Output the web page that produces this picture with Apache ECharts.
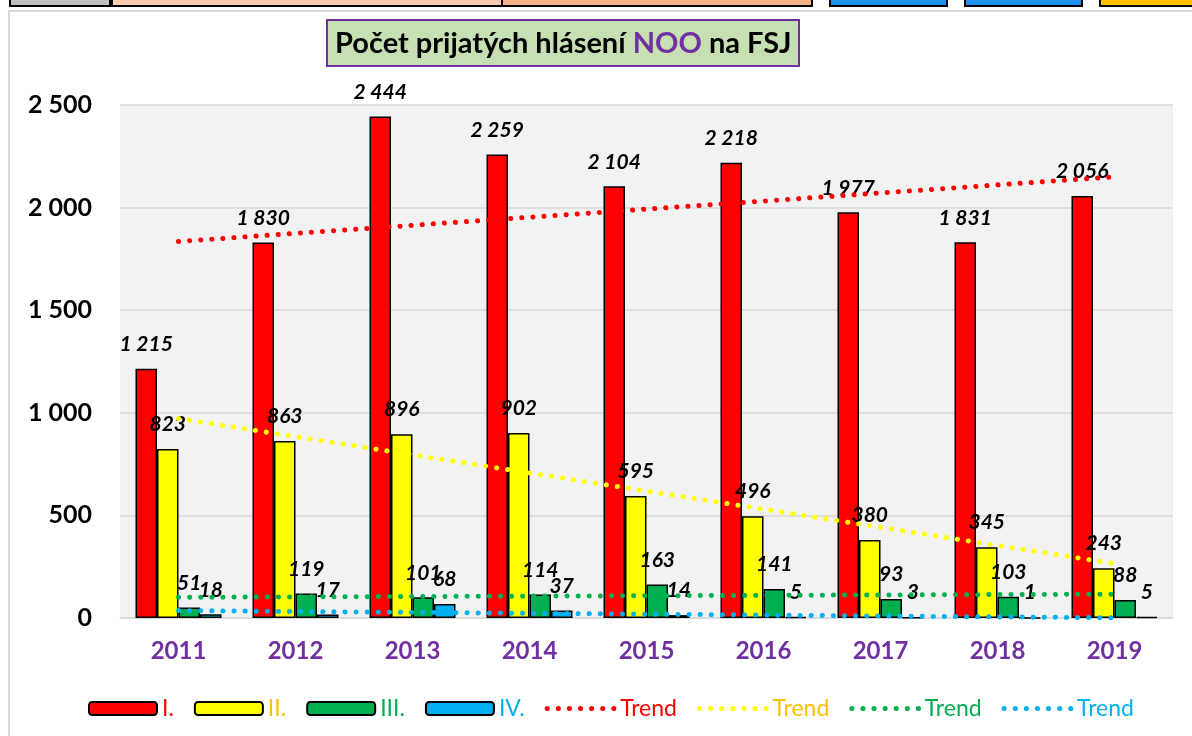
<!DOCTYPE html>
<html>
<head>
<meta charset="utf-8">
<style>
	html, body{
		margin: 0;
		padding: 0;
		background: #fff;
	}
	#noo{
		width: 1192px;
		height: 736px;
	}
</style>
<script src="https://cdn.jsdelivr.net/npm/echarts@6/dist/echarts.min.js"></script>
</head>
<body>
<div id="noo"></div>
<script>
// roky
var years = ['2011', '2012', '2013', '2014', '2015', '2016', '2017', '2018', '2019'];
// pocty hlaseni podla stupna
var stupenI = [1215, 1830, 2444, 2259, 2104, 2218, 1977, 1831, 2056];
var stupenII = [823, 863, 896, 902, 595, 496, 380, 345, 243];
var stupenIII = [51, 119, 101, 114, 163, 141, 93, 103, 88];
var stupenIV = [18, 17, 68, 37, 14, 5, 3, 1, 5];
// trendy - odcitane konce priamok z grafu
var trendI = [1835, null, null, null, null, null, null, null, 2150];
var trendII = [972, null, null, null, null, null, null, null, 265];
var trendIII = [101, null, null, null, null, null, null, null, 116];
var trendIV = [36, null, null, null, null, null, null, null, 1];
var yTicks = [0, 500, 1000, 1500, 2000, 2500];

var FONT = 'Lato';

function fmt(v) {
	return String(v).replace(/\B(?=(\d{3})+(?!\d))/g, ' ');
}

function barSerie(name, color, data) {
	return {
		name: name,
		type: 'bar',
		barWidth: 21.5,
		barGap: '0%',
		itemStyle: {
			color: color,
			borderColor: '#000',
			borderWidth: 1.5
		},
		label: {
			show: true,
			position: 'top',
			distance: 14,
			fontFamily: FONT,
			fontSize: 21,
			fontWeight: 'bold',
			fontStyle: 'italic',
			color: '#000',
			formatter: function (p) { return fmt(p.value); }
		},
		z: 2,
		data: data
	};
}

function trendSerie(name, color, data) {
	return {
		name: name,
		type: 'line',
		symbol: 'none',
		connectNulls: true,
		lineStyle: {
			color: color,
			width: 5,
			type: [0.1, 11],
			cap: 'round'
		},
		itemStyle: { color: color },
		z: 3,
		data: data
	};
}

function legendItem(name, color, isTrend) {
	var it = { name: name, textStyle: { color: color } };
	if (isTrend) {
		it.itemStyle = { opacity: 0 };
	}
	return it;
}

var chart = echarts.init(document.getElementById('noo'));

var option = {
	animation: false,
	backgroundColor: '#fff',
	title: {
		text: 'Počet prijatých hlásení {n|NOO} na FSJ',
		left: 327,
		top: 20,
		padding: [9, 8, 8, 8],
		backgroundColor: '#c6e0b4',
		borderColor: '#7030a0',
		borderWidth: 2,
		textStyle: {
			fontFamily: FONT,
			fontSize: 29,
			fontWeight: 'bold',
			color: '#000',
			rich: {
				n: {
					fontFamily: FONT,
					fontSize: 29,
					fontWeight: 'bold',
					color: '#7030a0'
				}
			}
		}
	},
	grid: {
		left: 120,
		right: 19,
		top: 105,
		bottom: 118,
		show: true,
		backgroundColor: '#f2f2f2',
		borderWidth: 0
	},
	legend: {
		left: 83,
		top: 692,
		itemWidth: 68,
		itemHeight: 13,
		itemGap: 20,
		lineStyle: {
			width: 5
		},
		textStyle: {
			fontFamily: FONT,
			fontSize: 23
		},
		formatter: function (n) {
			return n.indexOf('Trend') === 0 ? 'Trend' : n;
		},
		data: [
			legendItem('I.', '#ff0000'),
			legendItem('II.', '#ffc000'),
			legendItem('III.', '#00b050'),
			legendItem('IV.', '#00b0f0'),
			legendItem('Trend I.', '#ff0000', true),
			legendItem('Trend II.', '#ffc000', true),
			legendItem('Trend III.', '#00b050', true),
			legendItem('Trend IV.', '#00b0f0', true)
		]
	},
	xAxis: {
		type: 'category',
		data: years,
		axisTick: { show: false },
		axisLine: {
			lineStyle: { color: '#d9d9d9', width: 1.5 }
		},
		axisLabel: {
			margin: 21,
			fontFamily: FONT,
			fontSize: 24,
			fontWeight: 'bold',
			color: '#7030a0'
		}
	},
	yAxis: {
		type: 'value',
		min: yTicks[0],
		max: yTicks[yTicks.length - 1],
		interval: 500,
		axisLine: { show: false },
		axisTick: { show: false },
		splitLine: {
			lineStyle: { color: '#d9d9d9', width: 1.5 }
		},
		axisLabel: {
			margin: 28,
			fontFamily: FONT,
			fontSize: 25,
			fontWeight: 'bold',
			color: '#000',
			formatter: function (v) { return fmt(v); }
		}
	},
	series: [
		barSerie('I.', '#ff0000', stupenI),
		barSerie('II.', '#ffff00', stupenII),
		barSerie('III.', '#00b050', stupenIII),
		barSerie('IV.', '#00b0f0', stupenIV),
		trendSerie('Trend I.', '#ff0000', trendI),
		trendSerie('Trend II.', '#ffff00', trendII),
		trendSerie('Trend III.', '#00b050', trendIII),
		trendSerie('Trend IV.', '#00b0f0', trendIV)
	],
	// okraj grafu a kusok tabulky nad nim
	graphic: [
		{ type: 'rect', shape: { x: 9, y: 11, width: 1200, height: 800 }, style: { fill: 'none', stroke: '#d9d9d9', lineWidth: 2 }, silent: true },
		{ type: 'rect', shape: { x: 10, y: -2, width: 100, height: 8 }, style: { fill: '#c0c0c0', stroke: '#000', lineWidth: 2 }, silent: true },
		{ type: 'rect', shape: { x: 112, y: -2, width: 390, height: 8 }, style: { fill: '#f8cbad', stroke: '#000', lineWidth: 2 }, silent: true },
		{ type: 'rect', shape: { x: 502, y: -2, width: 310, height: 8 }, style: { fill: '#f4b183', stroke: '#000', lineWidth: 2 }, silent: true },
		{ type: 'rect', shape: { x: 830, y: -2, width: 117, height: 8 }, style: { fill: '#1e90f0', stroke: '#000', lineWidth: 2 }, silent: true },
		{ type: 'rect', shape: { x: 965, y: -2, width: 117, height: 8 }, style: { fill: '#1e90f0', stroke: '#000', lineWidth: 2 }, silent: true },
		{ type: 'rect', shape: { x: 1100, y: -2, width: 100, height: 8 }, style: { fill: '#ffc000', stroke: '#000', lineWidth: 2 }, silent: true }
	]
};

chart.setOption(option);
</script>
</body>
</html>
